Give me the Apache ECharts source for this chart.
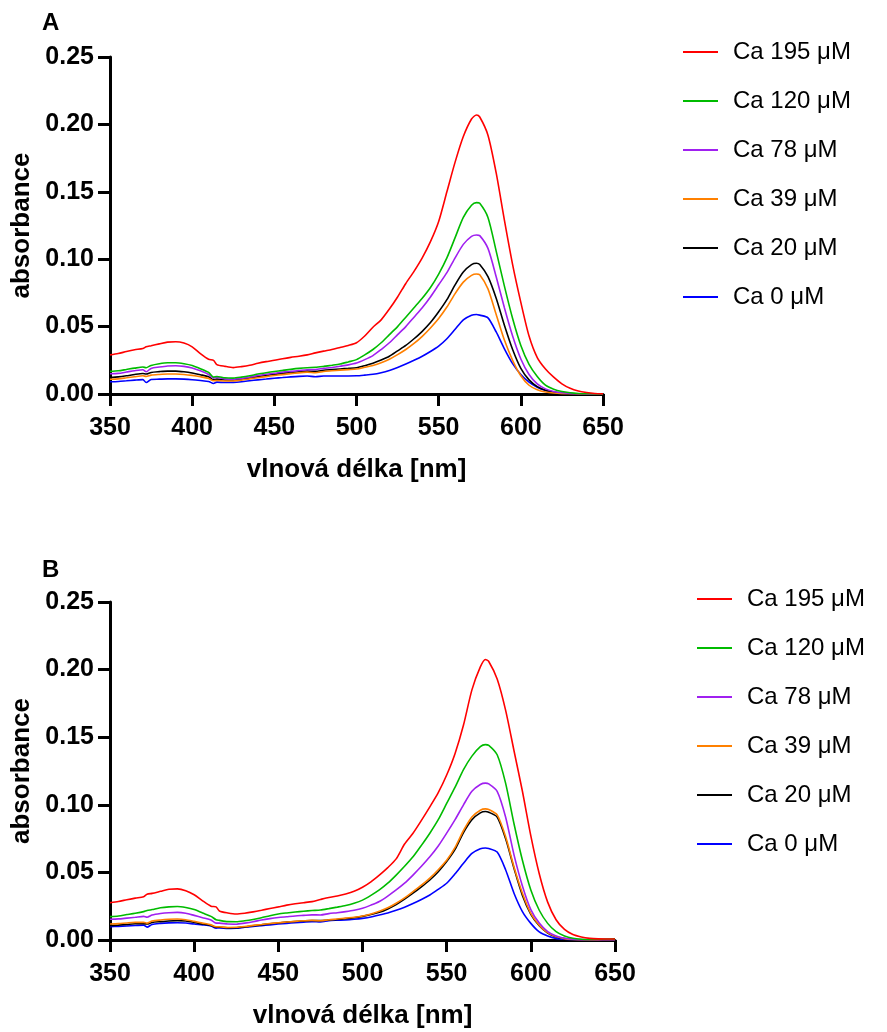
<!DOCTYPE html>
<html>
<head>
<meta charset="utf-8">
<script src="https://cdn.jsdelivr.net/npm/echarts@6/dist/echarts.min.js"></script>
<style>
html,body{margin:0;padding:0;background:#fff;}
#chart{width:887px;height:1032px;}
</style>
</head>
<body>
<div id="chart"></div>
<script>
// Wavelengths (nm)
const wavelengths = [350,355,360,365,370,372,375,380,385,390,395,400,405,410,413,415,420,425,430,435,440,445,450,455,460,465,470,475,480,485,490,495,500,505,510,515,520,525,530,535,540,545,550,555,560,565,570,573,575,580,585,590,595,600,605,610,615,620,625,630,635,640,645,650];

const seriesNames = ['Ca 195 \u03bcM','Ca 120 \u03bcM','Ca 78 \u03bcM','Ca 39 \u03bcM','Ca 20 \u03bcM','Ca 0 \u03bcM'];
const seriesColors = ['#ff0000','#00bb00','#a020f0','#ff8000','#000000','#0000ff'];
const xTicks = [350,400,450,500,550,600,650];
const yTicks = [0.00,0.05,0.10,0.15,0.20,0.25];

// Panel A
const a195 = [0.0290,0.0300,0.0315,0.0328,0.0338,0.0350,0.0358,0.0372,0.0385,0.0388,0.0378,0.0350,0.0300,0.0258,0.0250,0.0218,0.0205,0.0196,0.0203,0.0213,0.0228,0.0240,0.0250,0.0262,0.0272,0.0280,0.0290,0.0305,0.0318,0.0330,0.0345,0.0360,0.0380,0.0430,0.0495,0.0550,0.0630,0.0720,0.0820,0.0910,0.1010,0.1130,0.1280,0.1500,0.1720,0.1910,0.2040,0.2070,0.2055,0.1920,0.1640,0.1290,0.0960,0.0680,0.0430,0.0270,0.0185,0.0125,0.0075,0.0042,0.0022,0.0011,0.0004,0.0001];
const a120 = [0.0168,0.0172,0.0182,0.0192,0.0200,0.0195,0.0212,0.0225,0.0232,0.0232,0.0225,0.0212,0.0188,0.0160,0.0125,0.0130,0.0120,0.0118,0.0125,0.0135,0.0148,0.0158,0.0167,0.0175,0.0183,0.0190,0.0195,0.0198,0.0205,0.0213,0.0222,0.0238,0.0255,0.0290,0.0330,0.0380,0.0440,0.0500,0.0570,0.0640,0.0710,0.0790,0.0890,0.1010,0.1160,0.1310,0.1400,0.1420,0.1415,0.1310,0.1060,0.0800,0.0560,0.0360,0.0220,0.0130,0.0065,0.0035,0.0018,0.0009,0.0004,0.0002,0.0001,0.0000];
const a78 = [0.0150,0.0153,0.0163,0.0173,0.0180,0.0165,0.0190,0.0200,0.0208,0.0210,0.0205,0.0193,0.0172,0.0145,0.0118,0.0122,0.0112,0.0110,0.0116,0.0126,0.0137,0.0146,0.0154,0.0162,0.0168,0.0174,0.0180,0.0182,0.0190,0.0197,0.0206,0.0216,0.0230,0.0255,0.0285,0.0330,0.0380,0.0440,0.0500,0.0570,0.0640,0.0720,0.0810,0.0900,0.1010,0.1110,0.1170,0.1180,0.1175,0.1080,0.0870,0.0640,0.0430,0.0260,0.0145,0.0075,0.0038,0.0019,0.0009,0.0004,0.0002,0.0001,0.0000,0.0000];
const a39 = [0.0109,0.0112,0.0120,0.0128,0.0135,0.0130,0.0140,0.0145,0.0148,0.0148,0.0145,0.0138,0.0128,0.0115,0.0098,0.0100,0.0096,0.0097,0.0103,0.0112,0.0121,0.0129,0.0137,0.0144,0.0151,0.0157,0.0162,0.0158,0.0167,0.0172,0.0177,0.0181,0.0185,0.0198,0.0212,0.0232,0.0258,0.0292,0.0330,0.0375,0.0428,0.0490,0.0560,0.0645,0.0745,0.0830,0.0880,0.0890,0.0885,0.0780,0.0590,0.0400,0.0250,0.0135,0.0065,0.0032,0.0015,0.0007,0.0003,0.0002,0.0001,0.0000,0.0000,0.0000];
const a20 = [0.0123,0.0127,0.0135,0.0145,0.0152,0.0148,0.0160,0.0166,0.0170,0.0170,0.0165,0.0156,0.0143,0.0128,0.0105,0.0110,0.0104,0.0104,0.0110,0.0119,0.0128,0.0137,0.0146,0.0153,0.0160,0.0165,0.0170,0.0168,0.0176,0.0181,0.0186,0.0190,0.0195,0.0210,0.0228,0.0252,0.0280,0.0320,0.0360,0.0410,0.0465,0.0530,0.0610,0.0700,0.0810,0.0905,0.0960,0.0970,0.0960,0.0870,0.0710,0.0510,0.0330,0.0190,0.0105,0.0055,0.0028,0.0014,0.0007,0.0003,0.0001,0.0000,0.0000,0.0000];
const a0 = [0.0091,0.0093,0.0098,0.0103,0.0107,0.0085,0.0108,0.0110,0.0112,0.0112,0.0110,0.0106,0.0100,0.0093,0.0078,0.0088,0.0085,0.0086,0.0091,0.0098,0.0105,0.0111,0.0117,0.0122,0.0127,0.0131,0.0133,0.0128,0.0133,0.0133,0.0134,0.0134,0.0135,0.0140,0.0146,0.0158,0.0175,0.0197,0.0222,0.0250,0.0280,0.0315,0.0355,0.0410,0.0480,0.0550,0.0585,0.0590,0.0585,0.0565,0.0460,0.0335,0.0225,0.0145,0.0088,0.0050,0.0026,0.0013,0.0006,0.0003,0.0001,0.0000,0.0000,0.0000];

// Panel B
const b195 = [0.0276,0.0285,0.0298,0.0310,0.0320,0.0338,0.0345,0.0360,0.0375,0.0378,0.0365,0.0335,0.0290,0.0250,0.0245,0.0215,0.0200,0.0192,0.0198,0.0208,0.0220,0.0233,0.0245,0.0258,0.0268,0.0276,0.0284,0.0300,0.0315,0.0325,0.0340,0.0360,0.0390,0.0430,0.0480,0.0535,0.0600,0.0710,0.0790,0.0885,0.0985,0.1090,0.1220,0.1380,0.1590,0.1850,0.2020,0.2075,0.2060,0.1930,0.1700,0.1400,0.1100,0.0770,0.0490,0.0280,0.0150,0.0078,0.0040,0.0022,0.0012,0.0008,0.0007,0.0007];
const b120 = [0.0173,0.0178,0.0188,0.0198,0.0210,0.0218,0.0225,0.0238,0.0245,0.0248,0.0240,0.0225,0.0200,0.0175,0.0150,0.0145,0.0136,0.0135,0.0142,0.0152,0.0165,0.0180,0.0192,0.0200,0.0207,0.0213,0.0218,0.0222,0.0232,0.0243,0.0255,0.0272,0.0295,0.0330,0.0370,0.0420,0.0480,0.0545,0.0615,0.0700,0.0790,0.0890,0.1010,0.1130,0.1260,0.1360,0.1430,0.1445,0.1440,0.1370,0.1160,0.0860,0.0590,0.0370,0.0220,0.0123,0.0062,0.0030,0.0013,0.0006,0.0004,0.0005,0.0007,0.0008];
const b78 = [0.0153,0.0156,0.0162,0.0168,0.0175,0.0168,0.0185,0.0196,0.0202,0.0204,0.0198,0.0182,0.0165,0.0148,0.0125,0.0125,0.0118,0.0117,0.0125,0.0135,0.0148,0.0158,0.0166,0.0172,0.0178,0.0182,0.0186,0.0185,0.0195,0.0202,0.0210,0.0220,0.0235,0.0258,0.0285,0.0325,0.0370,0.0420,0.0480,0.0545,0.0615,0.0695,0.0790,0.0890,0.1000,0.1100,0.1150,0.1160,0.1155,0.1100,0.0910,0.0630,0.0400,0.0225,0.0125,0.0062,0.0030,0.0013,0.0006,0.0003,0.0002,0.0002,0.0003,0.0003];
const b39 = [0.0118,0.0121,0.0126,0.0130,0.0130,0.0125,0.0140,0.0148,0.0153,0.0155,0.0150,0.0138,0.0125,0.0112,0.0098,0.0098,0.0093,0.0094,0.0100,0.0108,0.0115,0.0122,0.0128,0.0133,0.0138,0.0142,0.0145,0.0142,0.0150,0.0155,0.0162,0.0168,0.0178,0.0193,0.0212,0.0238,0.0272,0.0312,0.0358,0.0405,0.0458,0.0520,0.0590,0.0685,0.0810,0.0910,0.0960,0.0970,0.0965,0.0925,0.0765,0.0540,0.0346,0.0197,0.0110,0.0054,0.0025,0.0010,0.0004,0.0002,0.0001,0.0001,0.0002,0.0002];
const b20 = [0.0106,0.0110,0.0115,0.0120,0.0120,0.0118,0.0130,0.0136,0.0141,0.0143,0.0140,0.0130,0.0118,0.0107,0.0094,0.0094,0.0090,0.0091,0.0097,0.0105,0.0112,0.0120,0.0126,0.0132,0.0137,0.0141,0.0144,0.0143,0.0148,0.0152,0.0158,0.0165,0.0175,0.0188,0.0205,0.0230,0.0262,0.0302,0.0346,0.0393,0.0444,0.0505,0.0580,0.0670,0.0795,0.0890,0.0940,0.0950,0.0945,0.0910,0.0750,0.0530,0.0330,0.0190,0.0105,0.0052,0.0024,0.0010,0.0004,0.0002,0.0001,0.0001,0.0001,0.0001];
const b0 = [0.0099,0.0101,0.0104,0.0107,0.0110,0.0095,0.0115,0.0123,0.0127,0.0128,0.0126,0.0118,0.0112,0.0104,0.0088,0.0090,0.0086,0.0087,0.0094,0.0100,0.0106,0.0112,0.0118,0.0123,0.0128,0.0132,0.0136,0.0133,0.0143,0.0146,0.0148,0.0153,0.0160,0.0170,0.0185,0.0200,0.0220,0.0243,0.0270,0.0300,0.0333,0.0375,0.0420,0.0490,0.0568,0.0640,0.0675,0.0680,0.0677,0.0650,0.0520,0.0346,0.0210,0.0123,0.0060,0.0030,0.0012,0.0005,0.0002,0.0001,0.0001,0.0001,0.0001,0.0001];

const panelA = [a195,a120,a78,a39,a20,a0];
const panelB = [b195,b120,b78,b39,b20,b0];

const FONT = '"Liberation Sans", Arial, Helvetica, sans-serif';

function pairs(vals){ return wavelengths.map((w,i)=>[w, vals[i]]); }

function xAxisCfg(gi){
  return {
    type:'value', gridIndex:gi, min:xTicks[0], max:xTicks[xTicks.length-1], interval:50,
    name:'vlnová délka [nm]', nameLocation:'middle', nameGap:63,
    nameTextStyle:{fontFamily:FONT, fontWeight:'bold', fontSize:26, color:'#000'},
    axisLine:{show:true, onZero:false, lineStyle:{color:'#000', width:3}},
    axisTick:{show:true, inside:false, length:12, lineStyle:{color:'#000', width:3}},
    axisLabel:{fontFamily:FONT, fontWeight:'bold', fontSize:25, color:'#000', margin:22},
    splitLine:{show:false}
  };
}
function yAxisCfg(gi){
  return {
    type:'value', gridIndex:gi, min:yTicks[0], max:yTicks[yTicks.length-1], interval:0.05,
    name:'absorbance', nameLocation:'middle', nameGap:73, nameRotate:90,
    nameTextStyle:{fontFamily:FONT, fontWeight:'bold', fontSize:26, color:'#000'},
    axisLine:{show:true, onZero:false, lineStyle:{color:'#000', width:3}},
    axisTick:{show:true, inside:false, length:12, lineStyle:{color:'#000', width:3}},
    axisLabel:{fontFamily:FONT, fontWeight:'bold', fontSize:25, color:'#000', margin:16,
      formatter:(v)=>v.toFixed(2)},
    splitLine:{show:false}
  };
}

const series = [];
[panelA, panelB].forEach((panel, gi)=>{
  panel.forEach((vals, k)=>{
    series.push({
      type:'line', name:seriesNames[k], xAxisIndex:gi, yAxisIndex:gi,
      data:pairs(vals), showSymbol:false, symbol:'none', smooth:0.25,
      lineStyle:{color:seriesColors[k], width:1.6}, itemStyle:{color:seriesColors[k]},
      z: 10 - k
    });
  });
});

function legendCfg(left, top){
  return {
    orient:'vertical', left:left, top:top, icon:'rect', itemWidth:35, itemHeight:2,
    itemGap:21, selectedMode:false,
    data:seriesNames.map((n,k)=>({name:n, itemStyle:{color:seriesColors[k]}})),
    textStyle:{fontFamily:FONT, fontSize:24, color:'#000', lineHeight:28, padding:[0,0,0,10]}
  };
}

const chart = echarts.init(document.getElementById('chart'), null, {renderer:'canvas'});
chart.setOption({
  animation:false,
  backgroundColor:'#fff',
  grid:[
    {left:110, top:57, width:493, height:337},
    {left:110, top:602, width:505, height:338}
  ],
  xAxis:[xAxisCfg(0), xAxisCfg(1)],
  yAxis:[yAxisCfg(0), yAxisCfg(1)],
  legend:[legendCfg(678, 33), legendCfg(692, 580)],
  graphic:[
    {type:'text', left:42, top:11, style:{text:'A', fontFamily:FONT, fontWeight:'bold', fontSize:24, fill:'#000'}},
    {type:'text', left:42, top:558, style:{text:'B', fontFamily:FONT, fontWeight:'bold', fontSize:24, fill:'#000'}}
  ],
  series:series
});
</script>
</body>
</html>
